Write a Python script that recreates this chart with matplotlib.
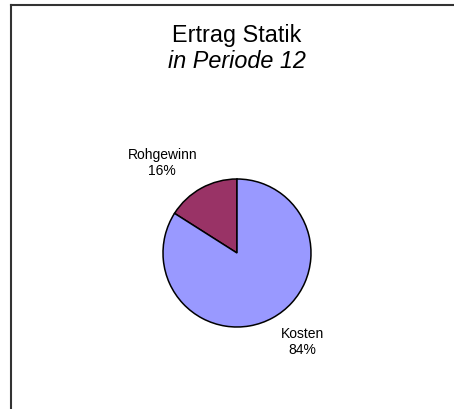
import matplotlib
matplotlib.use("Agg")
import matplotlib.pyplot as plt
from matplotlib.lines import Line2D

categories = ["Rohgewinn", "Kosten"]
values = [16, 84]
colors = ["#993366", "#9999FF"]
title = "Ertrag Statik"
subtitle = "in Periode 12"

plt.rcParams['font.family'] = ['Liberation Sans', 'DejaVu Sans']

W, H = 454, 409
fig = plt.figure(figsize=(W/100, H/100), dpi=100)
fig.patch.set_facecolor("white")

# frame lines (left and top)
fig.add_artist(Line2D([11/W, 11/W], [0, 1 - 4.5/H], color="#333333", lw=1.5))
fig.add_artist(Line2D([11/W, 1], [1 - 4.5/H, 1 - 4.5/H], color="#333333", lw=1.5))

fig.text(237/W, 1 - 35.5/H, title, ha="center", va="center", fontsize=16.8)
fig.text(237/W, 1 - 61.5/H, subtitle, ha="center", va="center", fontsize=16.8, style="italic")

cx, cy, r = 237, 253, 74
ax = fig.add_axes([(cx - r)/W, (H - cy - r)/H, 2*r/W, 2*r/H])
wedges, _ = ax.pie(values, colors=colors, startangle=90, counterclock=True,
                   wedgeprops=dict(edgecolor="black", linewidth=1.1))
ax.set_xlim(-1, 1)
ax.set_ylim(-1, 1)
ax.set_aspect("equal")
ax.axis("off")

label_pos = [(-1.01, 1.22), (0.88, -1.20)]
for cat, val, (lx, ly) in zip(categories, values, label_pos):
    ax.text(lx, ly, f"{cat}\n{val}%", ha="center", va="center", fontsize=10,
            linespacing=1.2, clip_on=False)

fig.savefig("out.png", dpi=100)
